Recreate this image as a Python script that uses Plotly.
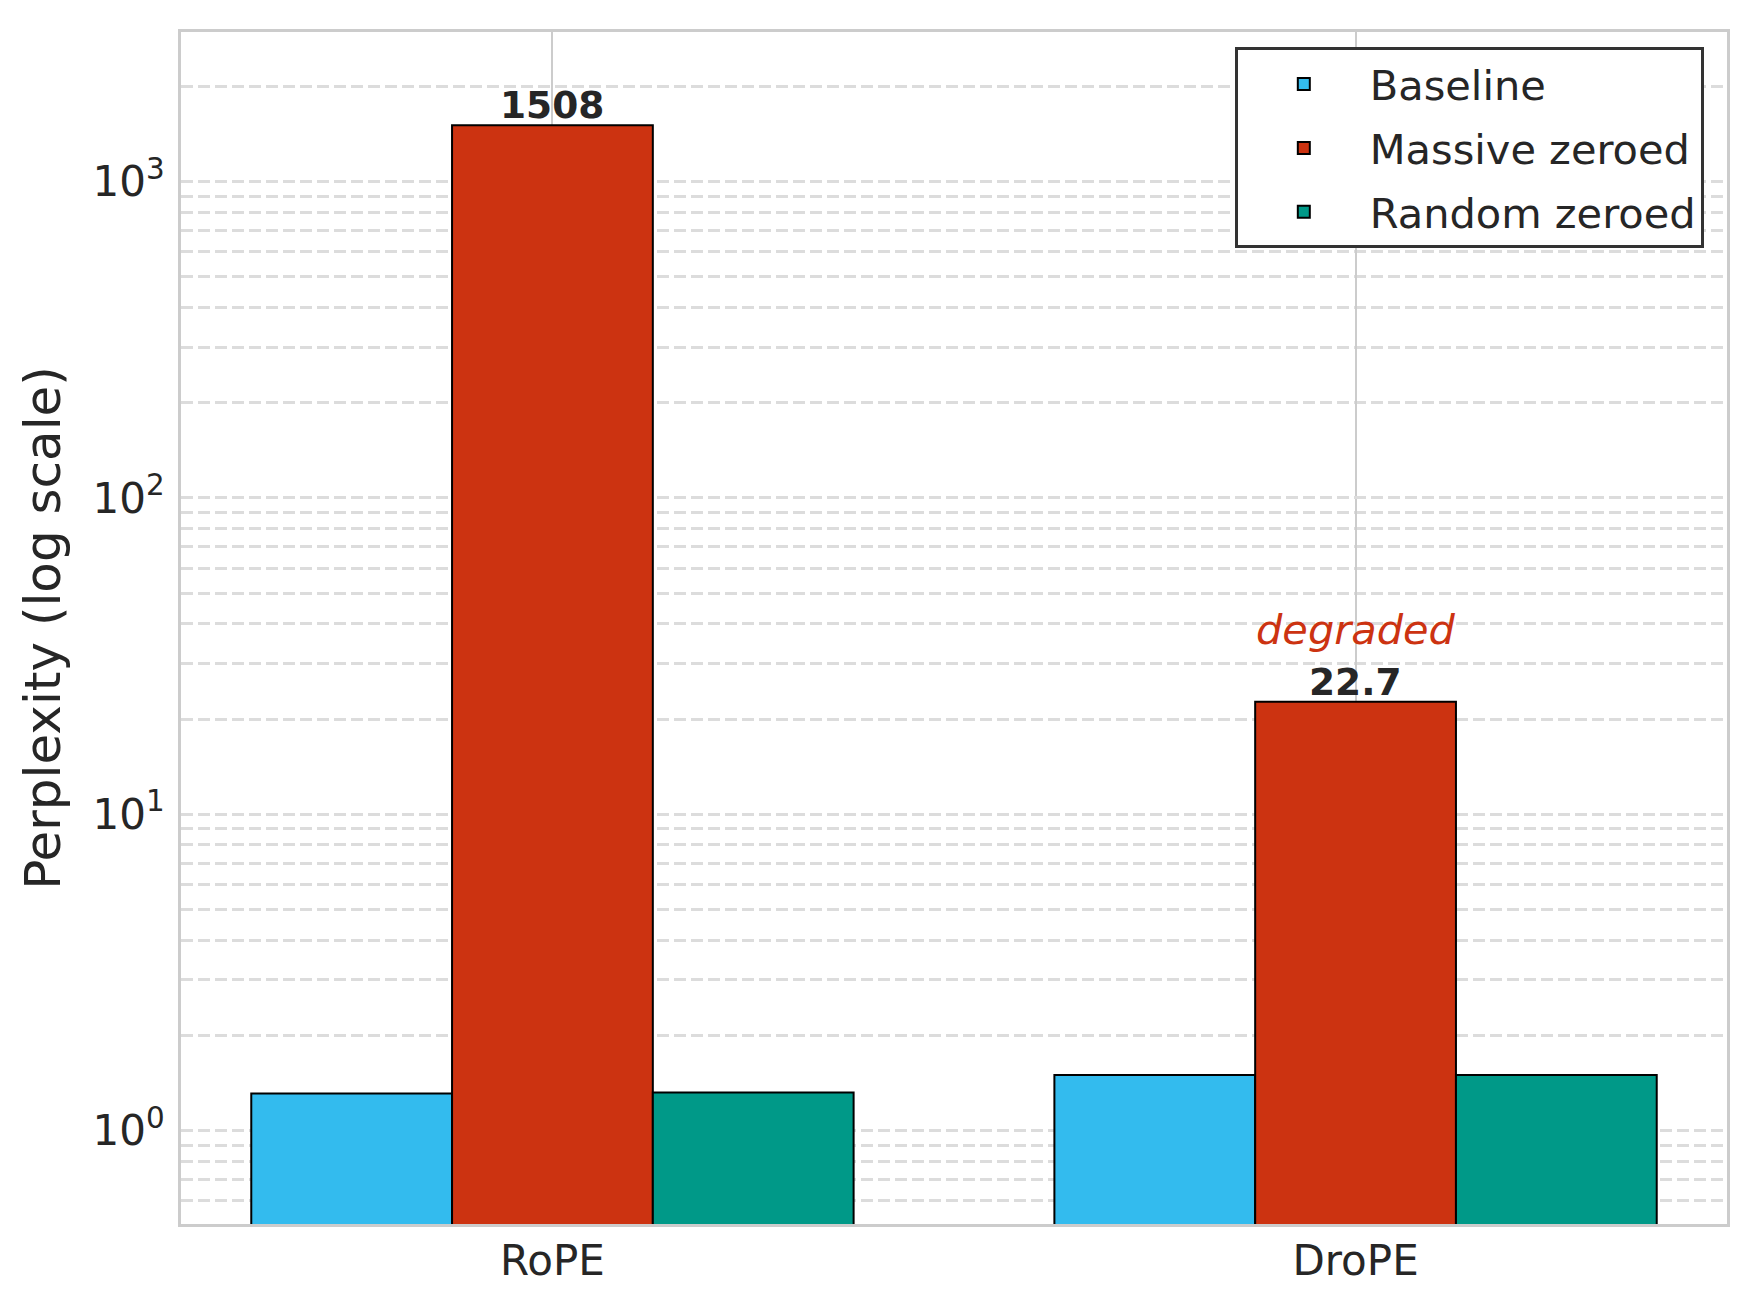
import math
import plotly.graph_objects as go

categories = ["RoPE", "DroPE"]
series_names = ["Baseline", "Massive zeroed", "Random zeroed"]
baseline = [1.31, 1.50]
massive = [1508, 22.7]
random_zeroed = [1.32, 1.50]
value_labels = ["1508", "22.7"]
note_text = "degraded"
note_category = "DroPE"
y_tickvals = [1, 10, 100, 1000]
y_ticktext = ["10<sup>0</sup>", "10<sup>1</sup>", "10<sup>2</sup>", "10<sup>3</sup>"]

colors = ["#33BBEE", "#CC3311", "#009988"]
series_values = [baseline, massive, random_zeroed]
FONT = "DejaVu Sans"
TXT = "#262626"
GRID_DASH = "12px,5px"

fig = go.Figure()
for name, vals, col in zip(series_names, series_values, colors):
    fig.add_trace(go.Bar(
        x=categories, y=vals, name=name, legendgroup=name,
        marker=dict(color=col, line=dict(color="#000000", width=2)),
    ))

annotations = []
for cat, v, lab in zip(categories, massive, value_labels):
    annotations.append(dict(
        x=cat, y=math.log10(v), xref="x", yref="y", text=f"<b>{lab}</b>", showarrow=False,
        yanchor="bottom", yshift=-3, borderpad=0,
        font=dict(family=FONT, size=37.5, color=TXT),
    ))
note_val = massive[categories.index(note_category)]
annotations.append(dict(
    x=note_category, y=math.log10(note_val), xref="x", yref="y", text=f"<i>{note_text}</i>",
    showarrow=False, yanchor="bottom", yshift=47, borderpad=0,
    font=dict(family=FONT, size=41.5, color="#CC3311"),
))

fig.update_layout(
    width=1758, height=1312,
    margin=dict(l=173, r=39, t=24, b=96),
    paper_bgcolor="white", plot_bgcolor="white",
    font=dict(family=FONT, size=42, color=TXT),
    barmode="group", bargap=0.25, bargroupgap=0,
    showlegend=True,
    legend=dict(
        x=0.985, y=0.987, xanchor="right", yanchor="top",
        bgcolor="white", bordercolor="#333333", borderwidth=3,
        font=dict(family=FONT, size=41.5, color=TXT),
        tracegroupgap=7, itemwidth=122,
    ),
    annotations=annotations,
)
fig.update_xaxes(
    type="category", range=[-0.4625, 1.4625],
    showgrid=True, gridcolor="#cccccc", gridwidth=2,
    showline=True, mirror=True, linecolor="#cccccc", linewidth=3,
    ticks="", ticklabelstandoff=-2,
    tickfont=dict(family=FONT, size=42, color=TXT),
)
fig.update_yaxes(
    type="log", range=[-0.295, 3.473],
    tickvals=y_tickvals, ticktext=y_ticktext,
    showgrid=True, gridcolor="#dcdcdc", gridwidth=2.5, griddash=GRID_DASH,
    minor=dict(dtick="D1", showgrid=True, gridcolor="#dcdcdc", gridwidth=2.5, griddash=GRID_DASH, ticks=""),
    showline=True, mirror=True, linecolor="#cccccc", linewidth=3,
    ticks="", ticklabelstandoff=5, zeroline=False,
    tickfont=dict(family=FONT, size=42, color=TXT),
    title=dict(text="Perplexity (log scale)", font=dict(family=FONT, size=50, color=TXT), standoff=16),
)
fig.write_html("out.html")
